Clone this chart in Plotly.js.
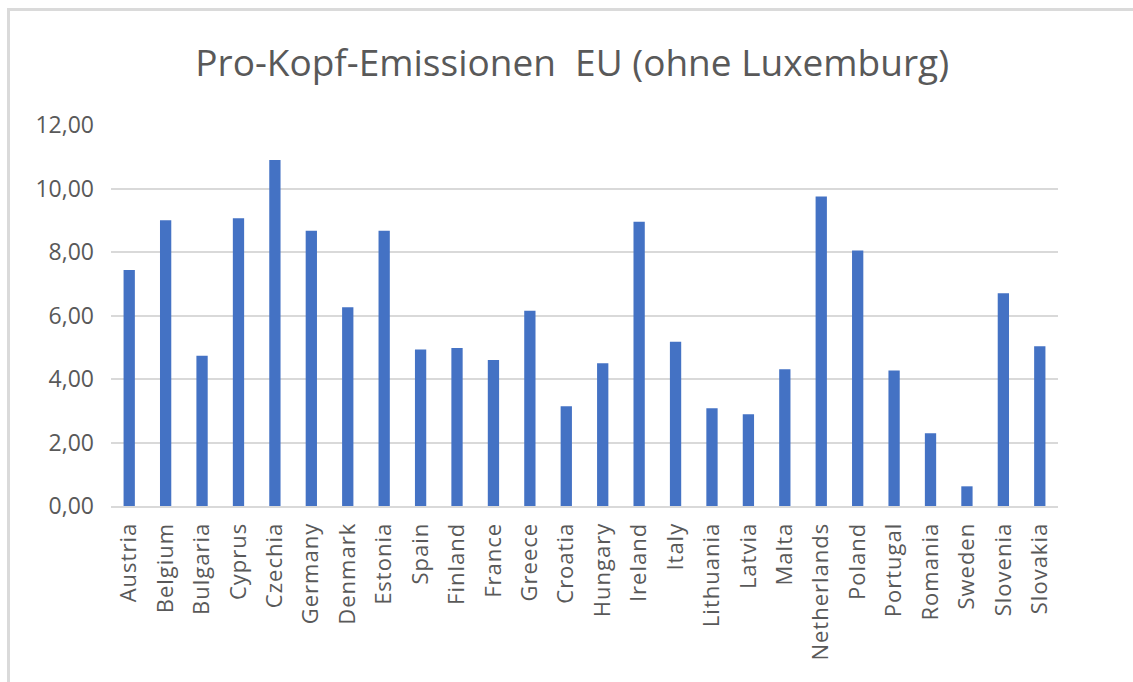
<!DOCTYPE html>
<html>
<head>
<meta charset="utf-8">
<script src="https://cdn.plot.ly/plotly-3.0.1.min.js"></script>
<style>
  html, body { margin: 0; padding: 0; background: #fff; overflow: hidden; }
  #frame { position: absolute; left: 7px; top: 8px; width: 1300px; height: 900px;
           border-left: 3px solid #dadada; border-top: 3px solid #dadada; pointer-events: none; z-index: 5; }
  #chart { position: absolute; left: 0; top: 0; width: 1133px; height: 682px; }
  #chart .xtick text { letter-spacing: 1px; }
</style>
</head>
<body>
<div id="chart"></div>
<div id="frame"></div>
<script>
const countries = ["Austria","Belgium","Bulgaria","Cyprus","Czechia","Germany","Denmark","Estonia","Spain","Finland","France","Greece","Croatia","Hungary","Ireland","Italy","Lithuania","Latvia","Malta","Netherlands","Poland","Portugal","Romania","Sweden","Slovenia","Slovakia"];
const emissions = [7.43, 9.00, 4.73, 9.06, 10.90, 8.67, 6.26, 8.67, 4.93, 4.98, 4.60, 6.15, 3.14, 4.50, 8.95, 5.17, 3.08, 2.89, 4.31, 9.75, 8.05, 4.27, 2.29, 0.62, 6.70, 5.03];
const yTicks = [0, 2, 4, 6, 8, 10, 12];
const yTickLabels = ["0,00", "2,00", "4,00", "6,00", "8,00", "10,00", "12,00"];
const chartTitle = "Pro-Kopf-Emissionen  EU (ohne Luxemburg)";

const trace = {
  type: "bar",
  x: countries,
  y: emissions,
  marker: { color: "#4472C4", line: { color: "#4472C4", width: 0 } },
  hoverinfo: "x+y"
};

const layout = {
  width: 1133,
  height: 682,
  paper_bgcolor: "#ffffff",
  plot_bgcolor: "#ffffff",
  margin: { l: 111, r: 75, t: 125, b: 176 },
  bargap: 0.69,
  showlegend: false,
  font: { family: "Open Sans, sans-serif", color: "#595959" },
  title: {
    text: chartTitle,
    font: { family: "Open Sans, sans-serif", size: 37, color: "#595959" },
    xref: "container", x: 0.505, xanchor: "center",
    yref: "container", y: 1 - 63 / 682, yanchor: "middle"
  },
  xaxis: {
    type: "category",
    tickangle: -90,
    tickfont: { size: 22, color: "#595959" },
    showgrid: false,
    showline: true,
    linecolor: "#d9d9d9",
    linewidth: 2,
    ticks: "",
    ticklabelstandoff: 6,
    zeroline: false
  },
  yaxis: {
    range: [0, 12],
    tickvals: yTicks,
    ticktext: yTickLabels,
    tickfont: { size: 23, color: "#595959" },
    showgrid: true,
    gridcolor: "#d9d9d9",
    gridwidth: 2,
    zeroline: false,
    showline: false,
    ticks: "",
    ticklabelstandoff: 16
  }
};

Plotly.newPlot("chart", [trace], layout, { displayModeBar: false, staticPlot: true });
</script>
</body>
</html>
